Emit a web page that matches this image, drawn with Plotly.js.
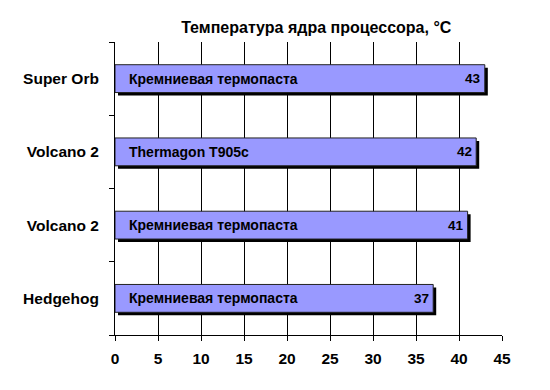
<!DOCTYPE html>
<html><head><meta charset="utf-8">
<script src="https://cdn.plot.ly/plotly-3.0.1.min.js"></script>
<style>html,body{margin:0;padding:0;background:#fff}</style>
</head><body><div id="chart" style="width:550px;height:390px"></div>
<script>
const coolers = ["Super Orb", "Volcano 2", "Volcano 2", "Hedgehog"];
const pastes = ["Кремниевая термопаста", "Thermagon T905c", "Кремниевая термопаста", "Кремниевая термопаста"];
const temps = [43, 42, 41, 37];
const slots = [3, 2, 1, 0];
const xTicks = [0, 5, 10, 15, 20, 25, 30, 35, 40, 45];

const FONT = "Liberation Sans, Arial, sans-serif";
const barW = 0.38;

const shadow = {
  type: "bar", orientation: "h", x: temps, y: slots, base: 0.35,
  width: barW, offset: -barW / 2 - 0.042,
  marker: {color: "#000000", line: {width: 0}},
  hoverinfo: "skip", showlegend: false
};
const bars = {
  type: "bar", orientation: "h", x: temps, y: slots,
  width: barW, offset: -barW / 2,
  marker: {color: "#9999FF", line: {color: "#222222", width: 1}},
  showlegend: false
};

const annotations = [];
slots.forEach((s, i) => {
  annotations.push({x: 0, y: s, xref: "x", yref: "y", text: "<b>" + pastes[i] + "</b>",
    showarrow: false, xanchor: "left", yanchor: "middle", xshift: 12,
    font: {family: FONT, size: 14, color: "#000"}});
  annotations.push({x: temps[i], y: s, xref: "x", yref: "y", text: "<b>" + temps[i] + "</b>",
    showarrow: false, xanchor: "right", yanchor: "middle", xshift: -2,
    font: {family: FONT, size: 13.5, color: "#000"}});
});

const layout = {
  width: 550, height: 390,
  margin: {l: 115, r: 48, t: 42, b: 55},
  paper_bgcolor: "#fff", plot_bgcolor: "#fff",
  barmode: "overlay",
  title: {text: "<b>Температура ядра процессора, °C</b>", x: 0.575, xanchor: "center", y: 0.93, yanchor: "middle",
    font: {family: FONT, size: 16, color: "#000"}},
  xaxis: {range: [0, 45], tickvals: xTicks, ticktext: xTicks.map(String),
    showgrid: true, gridcolor: "#000", gridwidth: 1,
    showline: true, linecolor: "#000", linewidth: 1,
    ticks: "outside", ticklen: 5, tickcolor: "#000", ticklabelstandoff: 4,
    zeroline: false, fixedrange: true,
    tickfont: {family: FONT, size: 15.5, color: "#000", weight: "bold"}},
  yaxis: {range: [-0.5, 3.5], tickvals: slots, ticktext: coolers.map(c => "<b>" + c + "</b>"),
    showgrid: false, zeroline: false,
    showline: true, linecolor: "#000", linewidth: 1,
    ticks: "", ticklabelstandoff: 12,
    minor: {tick0: -0.5, dtick: 1, ticks: "outside", ticklen: 5, tickcolor: "#000", showgrid: false},
    tickfont: {family: FONT, size: 15.5, color: "#000"}},
  annotations: annotations
};

Plotly.newPlot("chart", [shadow, bars], layout, {displayModeBar: false, staticPlot: true});
</script></body></html>
